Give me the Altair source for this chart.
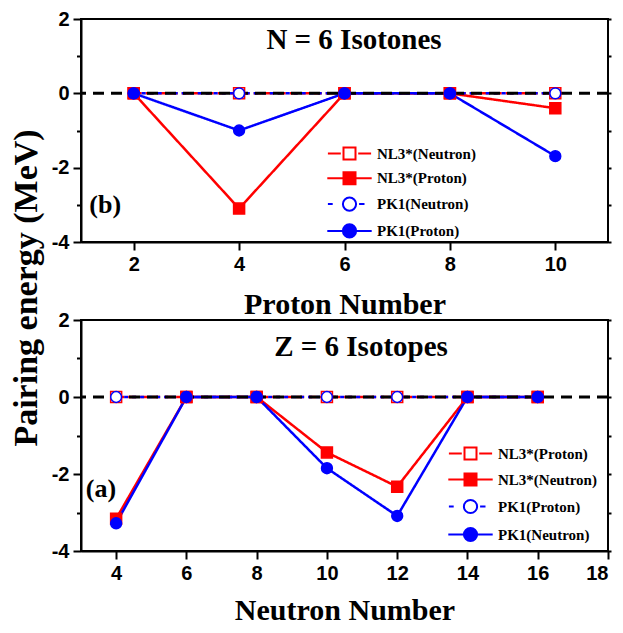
import altair as alt
import pandas as pd

RED = "#ff0000"
BLUE = "#0000ff"

# ---------------- data ----------------
# (b) N = 6 isotones  (x = proton number)
b_proton_number = [2, 4, 6, 8, 10]
b_nl3_neutron = [0.0, 0.0, 0.0, 0.0, 0.0]
b_nl3_proton = [0.0, -3.10, 0.0, 0.0, -0.40]
b_pk1_neutron = [0.0, 0.0, 0.0, 0.0, 0.0]
b_pk1_proton = [0.0, -1.00, 0.0, 0.0, -1.69]
b_series = ["NL3*(Neutron)", "NL3*(Proton)", "PK1(Neutron)", "PK1(Proton)"]
b_xticks = [2, 4, 6, 8, 10]

# (a) Z = 6 isotopes  (x = neutron number)
a_neutron_number = [4, 6, 8, 10, 12, 14, 16]
a_nl3_proton = [0.0, 0.0, 0.0, 0.0, 0.0, 0.0, 0.0]
a_nl3_neutron = [-3.16, 0.0, 0.0, -1.44, -2.33, 0.0, 0.0]
a_pk1_proton = [0.0, 0.0, 0.0, 0.0, 0.0, 0.0, 0.0]
a_pk1_neutron = [-3.28, 0.0, 0.0, -1.85, -3.09, 0.0, 0.0]
a_series = ["NL3*(Proton)", "NL3*(Neutron)", "PK1(Proton)", "PK1(Neutron)"]
a_xticks = [4, 6, 8, 10, 12, 14, 16, 18]

y_ticks = [-4, -2, 0, 2]
y_minor_ticks = [-3, -1, 1]
y_all_ticks = [-4, -3, -2, -1, 0, 1, 2]
zero_level = [0]

# ---------------- styles ----------------
dash_kind = ["long", "solid", "short", "solid"]
marker_kind = ["square", "square", "circle", "circle"]
stroke_range = [RED, RED, BLUE, BLUE]
fill_range = ["white", RED, "white", BLUE]

SQ = "M-1,-1H1V1H-1Z"
CI = "M1.1,0A1.1,1.1 0 1,1 -1.1,0A1.1,1.1 0 1,1 1.1,0Z"
legend_paths = [
    "M-3.6,0H-1.45M1.45,0H3.6" + SQ,
    "M-3.7,0H-1M1,0H3.7" + SQ,
    "M-3.6,0H-2.8M1.6,0H2.5" + CI,
    "M-3.7,0H-1.1M1.1,0H3.7" + CI,
]

SERIF = "Liberation Serif"
SANS = "Liberation Sans"


def make_panel(xvals, names, values, xdomain, xticks, xtitle, title_txt, title_xy,
               tag_txt, tag_xy, legend_xy, legend_rowpad, height, title_pad):
    rows = []
    for name, vals, dk, mk in zip(names, values, dash_kind, marker_kind):
        for xx, yy in zip(xvals, vals):
            rows.append({"x": xx, "y": yy, "series": name, "dash": dk, "marker": mk})
    df = pd.DataFrame(rows)

    xs = alt.Scale(domain=xdomain, nice=False, zero=False)
    ys = alt.Scale(domain=[-4, 2], nice=False, zero=False)
    stroke_s = alt.Scale(domain=names, range=stroke_range)
    fill_s = alt.Scale(domain=names, range=fill_range)
    shape_s = alt.Scale(domain=names, range=legend_paths)

    leg = alt.Legend(
        title=None, orient="none", legendX=legend_xy[0], legendY=legend_xy[1],
        rowPadding=legend_rowpad, labelOffset=20, symbolSize=144,
        symbolStrokeWidth=2, labelFont=SERIF, labelFontWeight="bold",
        labelFontSize=15, labelColor="black", padding=0, symbolOpacity=1,
        symbolFillColor="white",
    )

    base = alt.Chart(df)

    legend_layer = base.transform_filter("false").mark_point(opacity=1).encode(
        stroke=alt.Stroke("series:N", scale=stroke_s, legend=leg),
        fill=alt.Fill("series:N", scale=fill_s, legend=leg),
        shape=alt.Shape("series:N", scale=shape_s, legend=leg),
    )

    lines = base.mark_line(strokeWidth=2.5).encode(
        x=alt.X("x:Q", scale=xs, axis=alt.Axis(orient="bottom", values=xticks, title=xtitle,
                                                 titlePadding=title_pad, labelExpr="'' + datum.value")),
        y=alt.Y("y:Q", scale=ys, axis=alt.Axis(orient="left", values=y_ticks, title=None,
                                                 labelExpr="'' + datum.value")),
        stroke=alt.Stroke("series:N", scale=stroke_s),
        strokeDash=alt.StrokeDash("dash:N", scale=alt.Scale(domain=["long", "solid", "short"],
                                                            range=[[8, 4], [1, 0], [4, 4]]),
                                  legend=None),
    )

    zero = alt.Chart(pd.DataFrame({"y0": zero_level})).mark_rule(
        color="black", strokeWidth=3, strokeDash=[11, 7]
    ).encode(y=alt.Y("y0:Q", scale=ys, axis=None))

    squares = base.transform_filter("datum.marker == 'square'").mark_point(
        shape="square", size=121, opacity=1, strokeWidth=1.5
    ).encode(
        x=alt.X("x:Q", scale=xs, axis=None),
        y=alt.Y("y:Q", scale=ys, axis=alt.Axis(orient="left", values=y_minor_ticks, labels=False,
                                                 domain=False, ticks=True, tickSize=4.5, title=None)),
        stroke=alt.Stroke("series:N", scale=stroke_s),
        fill=alt.Fill("series:N", scale=fill_s),
    )

    circles = base.transform_filter("datum.marker == 'circle'").mark_point(
        shape="circle", size=118, opacity=1, strokeWidth=1.5
    ).encode(
        x=alt.X("x:Q", scale=xs, axis=None),
        y=alt.Y("y:Q", scale=ys, axis=alt.Axis(orient="right", values=y_all_ticks, labels=False,
                                                 domain=False, ticks=True, tickSize=3, title=None)),
        stroke=alt.Stroke("series:N", scale=stroke_s),
        fill=alt.Fill("series:N", scale=fill_s),
    )

    title_text = alt.Chart(pd.DataFrame({"t": [title_txt]})).mark_text(
        font=SERIF, fontWeight="bold", fontSize=29, color="black", align="center", baseline="alphabetic"
    ).encode(
        x=alt.XDatum(title_xy[0], axis=None),
        y=alt.YDatum(title_xy[1], axis=None),
        text="t:N",
    )

    tag_text = alt.Chart(pd.DataFrame({"t": [tag_txt]})).mark_text(
        font=SERIF, fontWeight="bold", fontSize=26, color="black", align="left", baseline="alphabetic"
    ).encode(
        x=alt.XDatum(tag_xy[0], axis=None),
        y=alt.YDatum(tag_xy[1], axis=None),
        text="t:N",
    )

    return alt.layer(legend_layer, lines, zero, squares, circles, title_text, tag_text).resolve_axis(
        x="independent", y="independent"
    ).properties(width=527, height=height)


top = make_panel(
    b_proton_number, b_series, [b_nl3_neutron, b_nl3_proton, b_pk1_neutron, b_pk1_proton],
    [1, 11], b_xticks, "Proton Number", "N = 6 Isotones", (6.18, 1.19),
    "(b)", (1.157, -3.22), (261, 127), 3.8, 223, 15,
)

bottom = make_panel(
    a_neutron_number, a_series, [a_nl3_proton, a_nl3_neutron, a_pk1_proton, a_pk1_neutron],
    [3, 18], a_xticks, "Neutron Number", "Z = 6 Isotopes", (10.97, 1.065),
    "(a)", (3.137, -2.6), (382, 126), 5, 231, 12,
)

chart = alt.vconcat(
    top, bottom, spacing=78, bounds="flush",
    padding={"left": 2, "top": 0, "right": 0, "bottom": 0},
    title=alt.Title("Pairing energy (MeV)", orient="left", anchor="middle", font=SERIF,
                    fontSize=34, fontWeight="bold", color="black", offset=6, dx=29),
).resolve_scale(
    stroke="independent", fill="independent", shape="independent", strokeDash="independent"
).configure_view(
    stroke="black", strokeWidth=2
).configure_axis(
    grid=False, domainColor="black", domainWidth=2, tickColor="black", tickWidth=2, tickSize=8,
    labelFont=SANS, labelFontWeight="bold", labelFontSize=20, labelColor="black", labelPadding=4,
    titleFont=SERIF, titleFontWeight="bold", titleFontSize=30, titleColor="black",
).configure_legend(
    symbolFillColor="white", symbolOpacity=1, symbolStrokeWidth=2, symbolSize=144,
    labelFont=SERIF, labelFontWeight="bold", labelFontSize=15, labelColor="black",
)

chart.save("out.html", embed_options={"renderer": "svg", "actions": False})
